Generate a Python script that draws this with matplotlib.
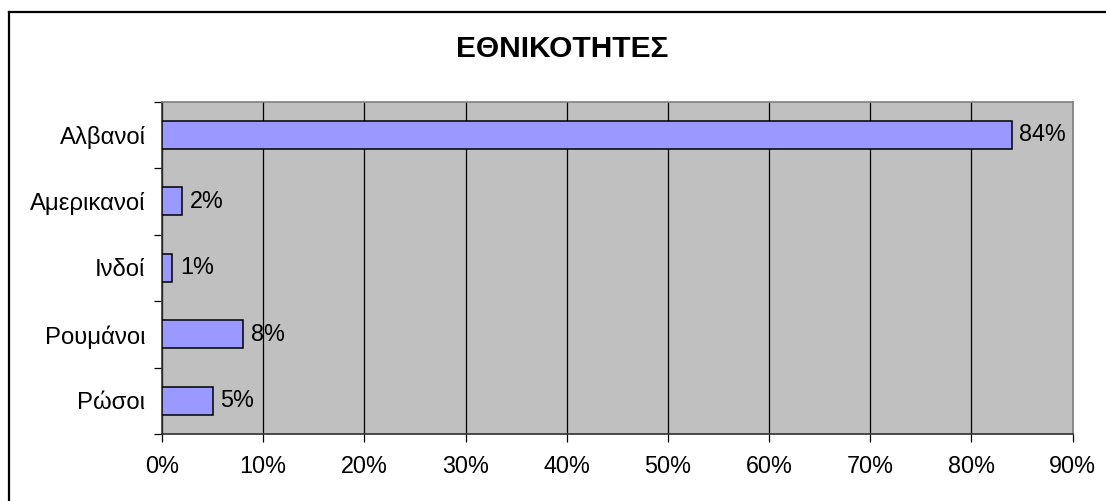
import matplotlib
matplotlib.use("Agg")
import matplotlib.pyplot as plt
from matplotlib.lines import Line2D
from matplotlib.ticker import MultipleLocator, FuncFormatter, FixedLocator

categories = ["Αλβανοί", "Αμερικανοί", "Ινδοί", "Ρουμάνοι", "Ρώσοι"]
values = [84, 2, 1, 8, 5]
title = "ΕΘΝΙΚΟΤΗΤΕΣ"

plt.rcParams['font.family'] = ['Liberation Sans', 'DejaVu Sans']

W, H = 1106, 501
fig = plt.figure(figsize=(W / 100, H / 100), dpi=100)
fig.patch.set_facecolor('white')

ax = fig.add_axes([162 / W, 1 - 434 / H, (1072.5 - 162) / W, (434 - 101.7) / H])
ax.set_facecolor('#C0C0C0')

n = len(categories)
ypos = list(range(n))
ax.barh(ypos, values, height=0.42, color='#9999FF', edgecolor='black',
        linewidth=1.1, zorder=3)
for y, v in zip(ypos, values):
    ax.annotate(f"{v}%", xy=(v, y), xytext=(5.5, 0), textcoords='offset points',
                ha='left', va='center', fontsize=16.8, zorder=4)

ax.set_xlim(0, 90)
ax.set_ylim(n - 0.5, -0.5)
ax.xaxis.set_major_locator(MultipleLocator(10))
ax.xaxis.set_major_formatter(FuncFormatter(lambda x, p: f"{int(round(x))}%"))
ax.grid(axis='x', color='black', linewidth=0.9, zorder=1)
ax.set_axisbelow(True)

# category labels at centers (minor), ticks at boundaries (major)
ax.yaxis.set_major_locator(FixedLocator([i - 0.5 for i in range(n + 1)]))
ax.yaxis.set_major_formatter(FuncFormatter(lambda y, p: ""))
ax.yaxis.set_minor_locator(FixedLocator(ypos))
ax.set_yticklabels(categories, minor=True)
ax.tick_params(axis='y', which='major', length=6, width=0.9, color='black')
ax.tick_params(axis='y', which='minor', length=0, pad=12, labelsize=17.2)
ax.tick_params(axis='x', which='major', length=6, width=0.9, color='black',
               pad=9, labelsize=16.8)

for s in ['top', 'right']:
    ax.spines[s].set_color('#808080')
    ax.spines[s].set_linewidth(1.2)
for s in ['left', 'bottom']:
    ax.spines[s].set_color('#303030')
    ax.spines[s].set_linewidth(1.2)

fig.text(562 / W, 1 - 49 / H, title, ha='center', va='center',
         fontsize=21.5, fontweight='bold')

# outer border (left and top visible)
fig.add_artist(Line2D([8.5 / W, 8.5 / W], [0, 1 - 12 / H], transform=fig.transFigure,
                      color='black', linewidth=1.6))
fig.add_artist(Line2D([8.5 / W, 1], [1 - 12 / H, 1 - 12 / H], transform=fig.transFigure,
                      color='black', linewidth=1.6))

fig.savefig("out.png", dpi=100, facecolor='white')
